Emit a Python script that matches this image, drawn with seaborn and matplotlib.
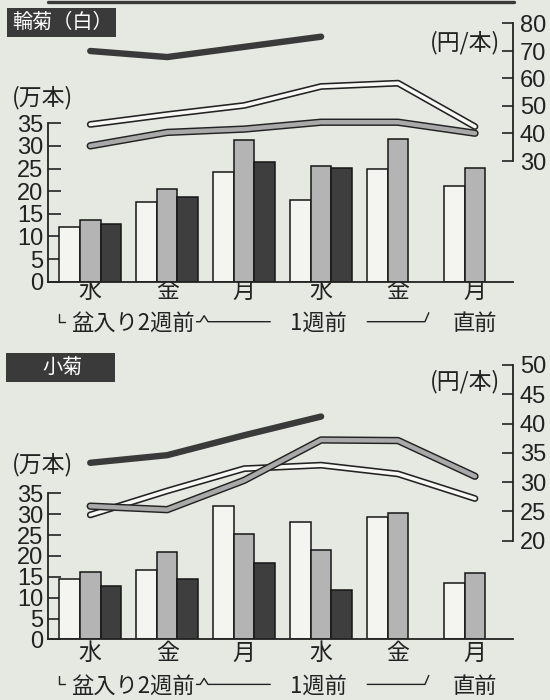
import numpy as np
import pandas as pd
import matplotlib.pyplot as plt
import matplotlib.patheffects as pe
from matplotlib.patches import Rectangle
from matplotlib.lines import Line2D
import seaborn as sns

# 曜日（盆入り2週前〜直前）
days = ['水', '金', '月', '水', '金', '月']
series = ['前々年', '前年', '今年']
bar_colors = ['#f4f4f0', '#b4b4b4', '#3e3e3e']

# 輪菊（白）入荷量（万本）
rin_vol_a = [12.0, 17.5, 24.2, 18.1, 24.8, 21.2]
rin_vol_b = [13.6, 20.5, 31.2, 25.5, 31.5, 25.1]
rin_vol_c = [12.75, 18.8, 26.5, 25.1, np.nan, np.nan]
# 輪菊（白）単価（円/本）
rin_price_a = [43.3, 46.9, 50.2, 57.1, 58.3, 42.5]
rin_price_b = [35.5, 40.4, 41.6, 44.1, 44.1, 40.1]
rin_price_c = [70.0, 67.8, 71.5, 75.2, np.nan, np.nan]

# 小菊 入荷量（万本）
ko_vol_a = [14.4, 16.7, 31.9, 28.1, 29.3, 13.5]
ko_vol_b = [16.1, 21.0, 25.3, 21.5, 30.2, 16.0]
ko_vol_c = [12.8, 14.5, 18.4, 11.8, np.nan, np.nan]
# 小菊 単価（円/本）
ko_price_a = [24.4, 28.5, 32.3, 32.9, 31.4, 27.2]
ko_price_b = [25.9, 25.3, 30.3, 37.2, 37.1, 31.0]
ko_price_c = [33.3, 34.6, 38.0, 41.2, np.nan, np.nan]

sns.set_theme(style='white')
plt.rcParams['font.family'] = ['Liberation Sans', 'Noto Sans CJK JP', 'DejaVu Sans']
CJK = ['Noto Sans CJK JP', 'DejaVu Sans']

W, H = 550, 700
BG = '#e6e8e2'
INK = '#222222'

fig = plt.figure(figsize=(W / 100, H / 100), dpi=100, facecolor=BG)


def fx(px):
    return px / W


def fy(py):
    return 1 - py / H


def long_df(vols):
    rows = []
    for s, v in zip(series, vols):
        for i, val in enumerate(v):
            rows.append({'pos': i, 'series': s, 'value': val})
    return pd.DataFrame(rows)


def panel(top_px, bottom_px, py35, r_anchor, r_ticks, vols, prices,
          title, box_px, title_x, title_ha, unit_py, yen_py, day_off, br_off):
    x0, x1 = 48, 513
    ax = fig.add_axes([fx(x0), fy(bottom_px), fx(x1 - x0), (bottom_px - top_px) / H])
    ax.set_facecolor('none')
    h_ax = bottom_px - top_px

    sns.barplot(data=long_df(vols), x='pos', y='value', hue='series',
                hue_order=series, palette=bar_colors, saturation=1,
                edgecolor='#161616', linewidth=1.1, errorbar=None,
                legend=False, ax=ax)

    # 左軸（万本）
    lscale = (bottom_px - py35) / 35
    ax.set_ylim(0, h_ax / lscale)
    ax.set_xlim(-0.549, 5.494)
    ax.set_yticks(range(0, 36, 5))
    ax.set_xticks(range(len(days)))
    ax.set_xticklabels(days, fontfamily=CJK, fontsize=16.5)
    ax.tick_params(axis='x', length=0, pad=day_off - 17, colors=INK)
    ax.tick_params(axis='y', direction='in', length=9, width=1.2,
                   pad=3.5, labelsize=17, colors=INK)
    ax.set_xlabel('')
    ax.set_ylabel('')
    for s in ['top', 'right']:
        ax.spines[s].set_visible(False)
    for s in ['left', 'bottom']:
        ax.spines[s].set_color(INK)
        ax.spines[s].set_linewidth(1.3)
    ax.spines['left'].set_bounds(0, 35)

    # 右軸（円/本）
    ax2 = ax.twinx()
    ax2.set_facecolor('none')
    (v_hi, py_hi), (v_lo, py_lo) = r_anchor
    rscale = (py_lo - py_hi) / (v_hi - v_lo)
    ax2.set_ylim(v_lo - (bottom_px - py_lo) / rscale, v_hi + (py_hi - top_px) / rscale)

    pa, pb, pc = prices
    xs = list(range(len(days)))
    sns.lineplot(x=xs, y=pa, ax=ax2, color='#f8f8f4', linewidth=2.6,
                 solid_capstyle='round',
                 path_effects=[pe.Stroke(linewidth=4.9, foreground=INK, capstyle='round'),
                               pe.Normal()])
    sns.lineplot(x=xs, y=pb, ax=ax2, color='#a9a9a9', linewidth=3.2,
                 solid_capstyle='round',
                 path_effects=[pe.Stroke(linewidth=5.3, foreground=INK, capstyle='round'),
                               pe.Normal()])
    sns.lineplot(x=xs, y=pc, ax=ax2, color='#3a3a3a', linewidth=4.6,
                 solid_capstyle='round')
    ax2.set_xlim(-0.549, 5.494)
    ax2.set_yticks(r_ticks)
    ax2.tick_params(axis='y', direction='in', length=8, width=1.2,
                    pad=5, labelsize=17, colors=INK)
    for s in ['top', 'left', 'bottom']:
        ax2.spines[s].set_visible(False)
    ax2.spines['right'].set_color(INK)
    ax2.spines['right'].set_linewidth(1.3)
    ax2.spines['right'].set_bounds(r_ticks[0], r_ticks[-1])

    # 期間のかっこ
    tr = ax.get_xaxis_transform()
    def yy(off):
        return -off / h_ax
    line_off = br_off - 2
    kw = dict(color=INK, lw=1.0, transform=tr, clip_on=False)
    ax.add_line(Line2D([-0.40, -0.40, -0.33],
                       [yy(line_off - 8), yy(line_off), yy(line_off)], **kw))
    ax.add_line(Line2D([1.38, 1.43, 1.48, 1.53, 2.34],
                       [yy(line_off), yy(line_off), yy(line_off - 6), yy(line_off), yy(line_off)], **kw))
    ax.add_line(Line2D([3.60, 4.35, 4.40],
                       [yy(line_off), yy(line_off), yy(line_off - 9)], **kw))
    for xc, txt in [(0.56, '盆入り2週前'), (2.96, '1週前'), (5.0, '直前')]:
        ax.text(xc, yy(br_off), txt, transform=tr, ha='center', va='center',
                fontsize=16, fontfamily=CJK, color=INK)

    # 見出し
    bx0, by0, bx1, by1 = box_px
    fig.add_artist(Rectangle((fx(bx0), fy(by1)), fx(bx1 - bx0), (by1 - by0) / H,
                             transform=fig.transFigure, facecolor='#3a3a3a',
                             edgecolor='none'))
    fig.text(fx(title_x), fy((by0 + by1) / 2), title, ha=title_ha, va='center',
             fontsize=14.5, fontfamily=CJK, color='white')
    fig.text(fx(12), fy(unit_py), '(万本)', ha='left', va='center',
             fontsize=16.5, fontfamily=CJK, color=INK)
    fig.text(fx(500), fy(yen_py), '(円/本)', ha='right', va='center',
             fontsize=16.5, fontfamily=CJK, color=INK)
    return ax


panel(15, 281.7, 123.3, ((80, 23.5), (30, 161.0)), list(range(30, 81, 10)),
      [rin_vol_a, rin_vol_b, rin_vol_c],
      [rin_price_a, rin_price_b, rin_price_c],
      '輪菊（白）', (7, 8, 116, 37), 12, 'left', 97.5, 43, 16, 42)

panel(360, 639.4, 493.3, ((50, 365.0), (20, 540.7)), list(range(20, 51, 5)),
      [ko_vol_a, ko_vol_b, ko_vol_c],
      [ko_price_a, ko_price_b, ko_price_c],
      '小菊', (6, 353, 115, 382), 62, 'center', 465, 382, 19, 47)

# 上端の罫線
fig.add_artist(Line2D([fx(48), fx(514)], [fy(1.5), fy(1.5)],
                      transform=fig.transFigure, color='#3a3a3a', lw=2.4))

fig.savefig('out.png', dpi=100, facecolor=BG)
